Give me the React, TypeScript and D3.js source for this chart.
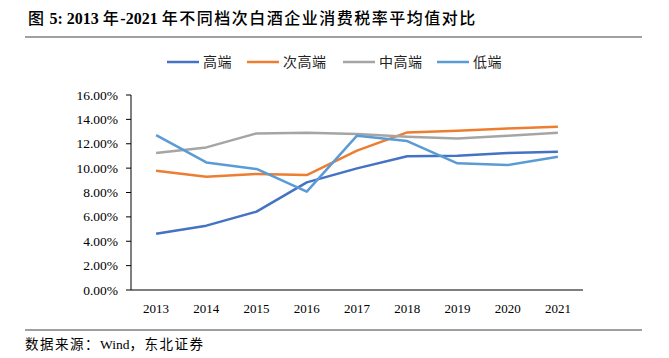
import React from "react";
import * as d3 from "d3";

const years = ["2013", "2014", "2015", "2016", "2017", "2018", "2019", "2020", "2021"];
const high = [4.62, 5.28, 6.43, 8.83, 9.98, 10.97, 11.02, 11.24, 11.35];
const subHigh = [9.79, 9.3, 9.52, 9.43, 11.43, 12.93, 13.07, 13.26, 13.4];
const midHigh = [11.24, 11.7, 12.85, 12.9, 12.8, 12.58, 12.44, 12.66, 12.9];
const low = [12.71, 10.47, 9.93, 8.07, 12.66, 12.22, 10.39, 10.25, 10.94];
const yTicks = [0, 2, 4, 6, 8, 10, 12, 14, 16];

const series = [
  {name: "高端", values: high, color: "#4472C4"},
  {name: "次高端", values: subHigh, color: "#ED7D31"},
  {name: "中高端", values: midHigh, color: "#A5A5A5"},
  {name: "低端", values: low, color: "#5B9BD5"},
];

const serif = "'Liberation Serif', 'Times New Roman', 'Noto Sans CJK SC', serif";
const cjk = "'Noto Sans CJK SC', sans-serif";

export default function App() {
  const width = 669;
  const height = 358;
  const left = 131, right = 583, top = 95, bottom = 290;

  const x = d3.scaleBand().domain(years).range([left, right]);
  const y = d3.scaleLinear().domain([0, 16]).range([bottom, top]);

  const line = d3
    .line<number>()
    .x((d, i) => x(years[i])! + x.bandwidth() / 2)
    .y(d => y(d));

  const legendX = [167, 247, 343, 437];

  return (
    <svg width={width} height={height} style={{position: "absolute", left: 0, top: 0}}>
      <rect width={width} height={height} fill="#fff"/>
      <text x={28} y={24} fontFamily={serif} fontWeight="bold" fontSize={16} fill="#000">
        <tspan fontWeight={500} letterSpacing={1.5}>图</tspan> 5: 2013 <tspan fontWeight={500} letterSpacing={1.5}>年</tspan>-2021 <tspan fontWeight={500} letterSpacing={1.5}>年不同档次白酒企业消费税率平均值对比</tspan>
      </text>
      <line x1={25} x2={642} y1={37} y2={37} stroke="#808080" strokeWidth={1.5}/>

      <g>
        {series.map((s, i) => (
          <g key={s.name}>
            <line x1={legendX[i]} x2={legendX[i] + 32} y1={62} y2={62} stroke={s.color} strokeWidth={2.5}/>
            <text x={legendX[i] + 36} y={67} fontFamily={cjk} fontSize={14} fill="#222" letterSpacing={0.5}>{s.name}</text>
          </g>
        ))}
      </g>

      <g>
        {yTicks.map(t => (
          <g key={t}>
            <line x1={left - 5} x2={left} y1={y(t)} y2={y(t)} stroke="#000"/>
            <text x={left - 13} y={y(t) + 4.5} textAnchor="end" fontFamily={serif} fontSize={13.5} fill="#000">
              {t.toFixed(2)}%
            </text>
          </g>
        ))}
        <line x1={left} x2={left} y1={top} y2={bottom} stroke="#000"/>
      </g>

      <g>
        <line x1={left} x2={right} y1={bottom} y2={bottom} stroke="#000" strokeWidth={1.2}/>
        {years.map(yr => (
          <text key={yr} x={x(yr)! + x.bandwidth() / 2} y={313} textAnchor="middle" fontFamily={serif} fontSize={13} fill="#000">
            {yr}
          </text>
        ))}
      </g>

      <g fill="none">
        {series.map(s => (
          <path key={s.name} d={line(s.values)!} stroke={s.color} strokeWidth={2.5} strokeLinejoin="round"/>
        ))}
      </g>

      <line x1={25} x2={642} y1={330} y2={330} stroke="#808080" strokeWidth={1.5}/>
      <text x={25} y={349} fontFamily={serif} fontSize={13.5} fill="#000">
        <tspan letterSpacing={1.5}>数据来源：</tspan>Wind<tspan letterSpacing={1.5}>，东北证券</tspan>
      </text>
    </svg>
  );
}
